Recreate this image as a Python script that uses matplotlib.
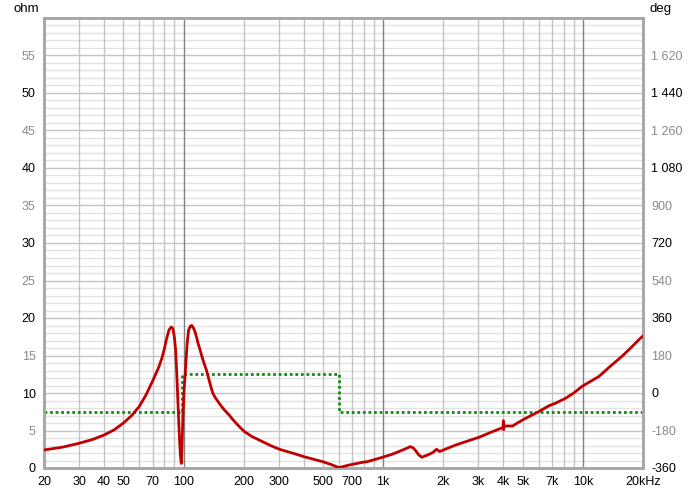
import numpy as np
import matplotlib.pyplot as plt
from matplotlib.ticker import FixedLocator, NullFormatter, NullLocator

plt.rcParams['font.family'] = ['Liberation Sans', 'DejaVu Sans']

# impedance curve (ohm)
freq = [20, 25, 30, 35, 40, 45, 50, 55, 60, 65, 70, 75, 78, 80, 82, 84.5, 86.8, 88.4,
        89.8, 91.2, 92.6, 93.6, 94.6, 95.5, 96.5, 97.4, 98.3, 99.2, 100.5, 102, 103.2,
        104.3, 106, 107.2, 108.5, 110, 112, 114, 116, 118, 120.5, 123.5, 126.5, 130,
        134.9, 137.5, 140, 144, 148.4, 154, 160, 170, 176, 183, 192, 202, 220, 249, 275,
        302, 350, 402, 450, 497, 550, 600, 676, 787, 834, 990, 1100, 1200, 1290, 1368,
        1410, 1445, 1500, 1560, 1620, 1700, 1780, 1848, 1880, 1920, 2000, 2310, 2650,
        3020, 3525, 3980, 4000, 4010, 4030, 4445, 4700, 4988, 5500, 5990, 6760, 7300,
        8190, 9000, 9920, 11000, 12020, 13500, 15700, 17500, 19400, 20000]
ohm = [2.4, 2.8, 3.3, 3.8, 4.4, 5.1, 6.0, 7.0, 8.2, 9.8, 11.6, 13.4, 14.7, 15.8, 17.1,
       18.4, 18.8, 18.6, 17.6, 15.8, 12.2, 9.1, 6.2, 3.7, 1.6, 0.6, 3.0, 6.9, 10.2, 12.7,
       14.9, 16.7, 18.4, 18.7, 18.95, 19.0, 18.7, 18.2, 17.5, 16.7, 15.9, 14.9, 14.0,
       13.1, 11.5, 10.7, 10.0, 9.4, 8.9, 8.3, 7.75, 7.0, 6.5, 6.0, 5.4, 4.85, 4.2, 3.5,
       2.95, 2.5, 2.0, 1.5, 1.15, 0.85, 0.45, 0.05, 0.4, 0.76, 0.85, 1.43, 1.8, 2.2,
       2.55, 2.85, 2.7, 2.4, 1.8, 1.43, 1.6, 1.83, 2.1, 2.5, 2.35, 2.2, 2.4, 3.07, 3.6,
       4.1, 4.85, 5.4, 6.3, 5.1, 5.6, 5.6, 6.0, 6.4, 7.0, 7.5, 8.3, 8.65, 9.3, 10.0,
       10.9, 11.6, 12.2, 13.4, 14.9, 16.1, 17.3, 17.6]

# phase curve (deg)
phase_freq = [20, 98, 98, 603, 603, 20000]
phase_deg = [-90, -90, 90, 90, -90, -90]

xticks = [20, 30, 40, 50, 70, 100, 200, 300, 500, 700, 1000, 2000, 3000, 4000,
          5000, 7000, 10000, 20000]
xlabels = ['20', '30', '40', '50', '70', '100', '200', '300', '500', '700', '1k',
           '2k', '3k', '4k', '5k', '7k', '10k', '20kHz']

fig = plt.figure(figsize=(7, 4.92), dpi=100)
ax = fig.add_axes([44 / 700, 24 / 492, 599 / 700, 450 / 492])
ax2 = ax.twinx()
ax.set_zorder(ax2.get_zorder() + 1)
ax.patch.set_visible(False)

ax.set_xscale('log')
ax.set_xlim(20, 20000)
ax.set_ylim(0, 60)
ax2.set_ylim(-360, 1800)

# grid: light horizontals first, then verticals on top
for v in range(1, 60):
    if v % 5:
        ax.axhline(v, color='#e2e2e2', lw=1, zorder=0.1)
for v in range(5, 60, 5):
    ax.axhline(v, color='#c4c4c4', lw=1, zorder=0.2)
for f in [30, 40, 50, 60, 70, 80, 90, 200, 300, 400, 500, 600, 700, 800, 900,
          2000, 3000, 4000, 5000, 6000, 7000, 8000, 9000]:
    ax.axvline(f, color='#c4c4c4', lw=1, zorder=0.3)
for f in [100, 1000, 10000]:
    ax.axvline(f, color='#808080', lw=1, zorder=0.4)

# phase drawn in the deg axis coordinates, but above the grid
ax.plot(phase_freq, phase_deg, color='#138a13', lw=2, linestyle=(0, (1, 1)),
        transform=ax2.transData, zorder=2)
ax.plot(freq, ohm, color='#c00000', lw=2, zorder=3)

ax.xaxis.set_major_locator(FixedLocator(xticks))
ax.xaxis.set_minor_locator(NullLocator())
ax.set_xticklabels(xlabels)
ax.xaxis.set_minor_formatter(NullFormatter())

yt = list(range(0, 60, 5))
ax.set_yticks(yt)
ax.set_yticklabels([str(v) for v in yt])
for lab, v in zip(ax.get_yticklabels(), yt):
    lab.set_color('black' if v % 10 == 0 else '#8a8a8a')

dt = list(range(-360, 1800, 180))
ax2.set_yticks(dt)
ax2.set_yticklabels([f'{v:,}'.replace(',', ' ') for v in dt])
for lab, v in zip(ax2.get_yticklabels(), dt):
    lab.set_color('black' if (v + 360) % 360 == 0 else '#8a8a8a')

ax.tick_params(axis='both', length=0, labelsize=9, pad=6)
ax2.tick_params(axis='y', length=0, labelsize=9, pad=6)

for a in (ax, ax2):
    for s in a.spines.values():
        s.set_color('#a8a8a8')
        s.set_linewidth(2)

fig.text(14 / 700, 1 - 9 / 492, 'ohm', fontsize=9.5, va='center', ha='left')
fig.text(650 / 700, 1 - 9 / 492, 'deg', fontsize=9.5, va='center', ha='left')

fig.savefig('out.png', dpi=100)
